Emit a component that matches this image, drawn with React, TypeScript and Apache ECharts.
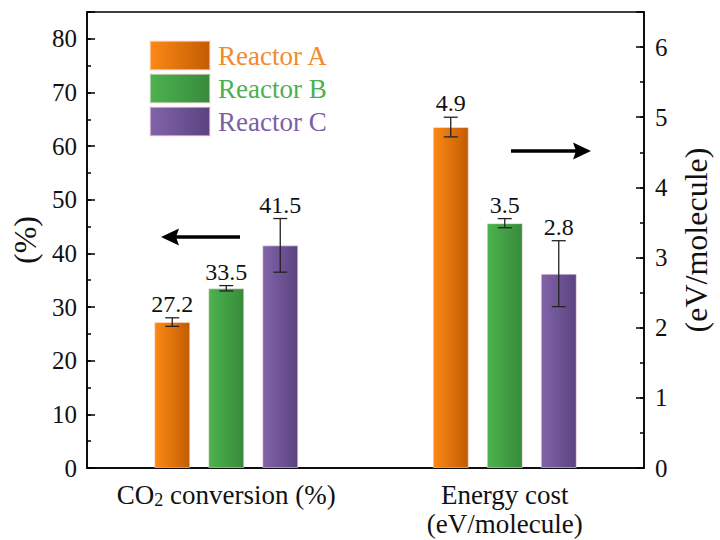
import React, { useEffect, useRef } from 'react';
import * as echarts from 'echarts';

const CATEGORIES = ['CO2 conversion (%)', 'Energy cost (eV/molecule)'];
const REACTORS = ['Reactor A', 'Reactor B', 'Reactor C'];
const CO2_VALUES = [27.2, 33.5, 41.5];
const CO2_ERRORS = [0.8, 0.5, 5.0];
const CO2_LABELS = ['27.2', '33.5', '41.5'];
const ENERGY_VALUES = [4.86, 3.49, 2.77];
const ENERGY_ERRORS = [0.14, 0.065, 0.47];
const ENERGY_LABELS = ['4.9', '3.5', '2.8'];
const LEFT_AXIS = { min: 0, max: 85, interval: 10, minor: 5 };
const RIGHT_AXIS = { min: 0, max: 6.5, interval: 1, minor: 0.5 };

const COLORS_LIGHT = ['#FC8916', '#4DB34F', '#8263AA'];
const COLORS_DARK = ['#C25C02', '#378A3B', '#5A4380'];
const TEXT_COLORS = ['#F28A2E', '#4CAF50', '#7C5EA6'];

const FONT = 'Times New Roman';
const BAR_WIDTH = 36;
const BAR_SPACING = 18;
const CAP = 14;

function gradient(i: number) {
  return new echarts.graphic.LinearGradient(0, 0, 1, 0, [
    { offset: 0, color: COLORS_LIGHT[i] },
    { offset: 1, color: COLORS_DARK[i] },
  ]);
}

function errorSeries(group: number, values: number[], errors: number[], labels: string[]) {
  return {
    type: 'custom',
    xAxisIndex: group,
    yAxisIndex: group,
    z: 10,
    silent: true,
    data: values.map((v, i) => [group, v, errors[i], i]),
    renderItem: (params: any, api: any) => {
      const cat = api.value(0);
      const v = api.value(1);
      const e = api.value(2);
      const r = api.value(3);
      const c = api.coord([cat, v]);
      const x = c[0] + (r - 1) * (BAR_WIDTH + BAR_SPACING);
      const yTop = api.coord([cat, v + e])[1];
      const yBot = api.coord([cat, v - e])[1];
      const st = { stroke: '#222', lineWidth: 1.3 };
      const h = CAP / 2;
      return {
        type: 'group',
        children: [
          { type: 'line', shape: { x1: x, y1: yTop, x2: x, y2: yBot }, style: st },
          { type: 'line', shape: { x1: x - h, y1: yTop, x2: x + h, y2: yTop }, style: st },
          { type: 'line', shape: { x1: x - h, y1: yBot, x2: x + h, y2: yBot }, style: st },
          {
            type: 'text',
            x,
            y: yTop - 14,
            style: {
              text: labels[params.dataIndex],
              fontFamily: FONT,
              fontSize: 24,
              fill: '#111',
              align: 'center',
              verticalAlign: 'middle',
            },
          },
        ],
      };
    },
  };
}

export default function App() {
  const ref = useRef<HTMLDivElement>(null);
  useEffect(() => {
    if (!ref.current) return;
    const chart = echarts.init(ref.current, undefined, { renderer: 'svg' });
    const barSeries: any[] = [];
    [0, 1].forEach((group) => {
      REACTORS.forEach((name, i) => {
        barSeries.push({
          type: 'bar',
          name,
          xAxisIndex: group,
          yAxisIndex: group,
          barWidth: BAR_WIDTH,
          barGap: '50%',
          data: group === 0 ? [CO2_VALUES[i], '-'] : ['-', ENERGY_VALUES[i]],
          itemStyle: { color: gradient(i), borderColor: 'rgba(255,230,230,0.55)', borderWidth: 1 },
        });
      });
    });
    const axisLineStyle = { color: '#000', width: 1.5 };
    const rich = {
      b: { fontFamily: FONT, fontSize: 27, color: '#111', lineHeight: 29 },
      s: { fontFamily: FONT, fontSize: 18, color: '#111', padding: [11, 0, 0, 0] },
    };
    chart.setOption({
      animation: false,
      backgroundColor: '#fff',
      textStyle: { fontFamily: FONT },
      grid: { left: 87, right: 63, top: 12, bottom: 72, show: true, borderColor: '#000', borderWidth: 1.5 },
      legend: {
        orient: 'vertical',
        left: 144,
        top: 35,
        itemWidth: 60,
        itemHeight: 29,
        itemGap: 2,
        icon: 'rect',
        selectedMode: false,
        data: REACTORS.map((n, i) => ({ name: n, textStyle: { color: TEXT_COLORS[i], fontFamily: FONT } })),
        textStyle: { fontFamily: FONT, fontSize: 27, lineHeight: 29, padding: [0, 0, 0, 3] },
      },
      xAxis: [
        {
          type: 'category',
          data: CATEGORIES,
          position: 'bottom',
          axisLine: { lineStyle: axisLineStyle },
          axisTick: { alignWithLabel: true, inside: true, length: 7, lineStyle: axisLineStyle },
          axisLabel: {
            margin: 12,
            interval: 0,
            fontFamily: FONT,
            formatter: (_v: string, i: number) =>
              i === 0 ? '{b|CO}{s|2}{b| conversion (%)}' : '{b|Energy cost}\n{b|(eV/molecule)}',
            rich,
          },
        },
        {
          type: 'category',
          data: CATEGORIES,
          position: 'bottom',
          axisLine: { show: false },
          axisTick: { inside: true, length: 4, lineStyle: axisLineStyle },
          axisLabel: { show: false },
        },
      ],
      yAxis: [
        {
          type: 'value',
          position: 'left',
          min: LEFT_AXIS.min,
          max: LEFT_AXIS.max,
          interval: LEFT_AXIS.interval,
          name: '(%)',
          nameLocation: 'middle',
          nameRotate: 90,
          nameGap: 42,
          nameTextStyle: { fontFamily: FONT, fontSize: 32, color: '#111' },
          axisLine: { show: true, lineStyle: axisLineStyle },
          axisTick: { show: true, inside: true, length: 8, lineStyle: axisLineStyle },
          splitLine: { show: false },
          axisLabel: {
            margin: 10,
            fontFamily: FONT,
            fontSize: 25,
            color: '#111',
            formatter: (v: number) => (v % LEFT_AXIS.interval === 0 ? String(v) : ''),
          },
        },
        {
          type: 'value',
          position: 'right',
          min: RIGHT_AXIS.min,
          max: RIGHT_AXIS.max,
          interval: RIGHT_AXIS.interval,
          name: '(eV/molecule)',
          nameLocation: 'middle',
          nameRotate: 90,
          nameGap: 36,
          nameTextStyle: { fontFamily: FONT, fontSize: 32, color: '#111' },
          axisLine: { show: true, lineStyle: axisLineStyle },
          axisTick: { show: true, inside: true, length: 8, lineStyle: axisLineStyle },
          splitLine: { show: false },
          axisLabel: {
            margin: 11,
            fontFamily: FONT,
            fontSize: 25,
            color: '#111',
            formatter: (v: number) => (v % RIGHT_AXIS.interval === 0 ? String(v) : ''),
          },
        },
        {
          type: 'value',
          position: 'left',
          min: LEFT_AXIS.min,
          max: LEFT_AXIS.max,
          interval: LEFT_AXIS.minor,
          axisLine: { show: false },
          axisTick: { show: true, inside: true, length: 4, lineStyle: axisLineStyle },
          axisLabel: { show: false },
          splitLine: { show: false },
        },
        {
          type: 'value',
          position: 'right',
          min: RIGHT_AXIS.min,
          max: RIGHT_AXIS.max,
          interval: RIGHT_AXIS.minor,
          axisLine: { show: false },
          axisTick: { show: true, inside: true, length: 4, lineStyle: axisLineStyle },
          axisLabel: { show: false },
          splitLine: { show: false },
        },
      ],
      graphic: [
        { type: 'line', shape: { x1: 175, y1: 237, x2: 240, y2: 237 }, style: { stroke: '#000', lineWidth: 3.5 } },
        { type: 'polygon', shape: { points: [[161, 237], [179, 228.5], [176, 237], [179, 245.5]] }, style: { fill: '#000' } },
        { type: 'line', shape: { x1: 511, y1: 151, x2: 576, y2: 151 }, style: { stroke: '#000', lineWidth: 3.5 } },
        { type: 'polygon', shape: { points: [[591, 151], [573, 142.5], [576, 151], [573, 159.5]] }, style: { fill: '#000' } },
      ],
      series: [
        ...barSeries,
        errorSeries(0, CO2_VALUES, CO2_ERRORS, CO2_LABELS),
        errorSeries(1, ENERGY_VALUES, ENERGY_ERRORS, ENERGY_LABELS),
      ],
    });
    return () => chart.dispose();
  }, []);
  return <div ref={ref} style={{ position: 'absolute', left: 0, top: 0, width: 720, height: 540 }} />;
}
